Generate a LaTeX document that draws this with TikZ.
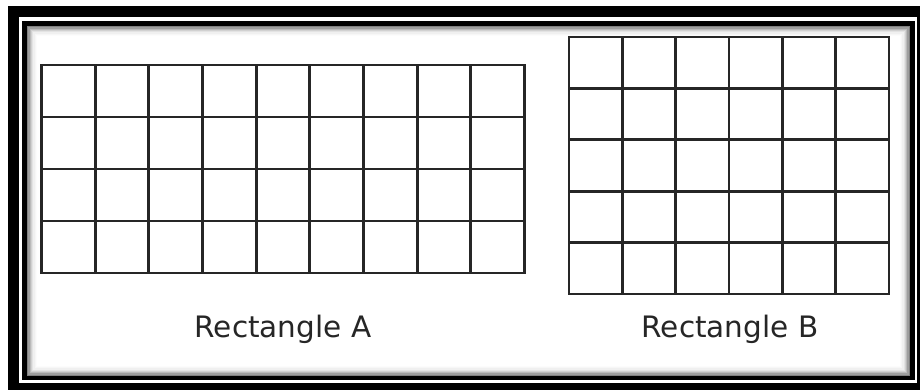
\documentclass[tikz,border=0pt]{standalone}
\usepackage{fontspec}
\setmainfont{DejaVu Sans}
\definecolor{ink}{HTML}{262626}

\begin{document}
\begin{tikzpicture}[x=1pt, y=-1pt,
    gridline/.style={draw=ink, line width=2.9pt},
    rectlabel/.style={font=\fontsize{29.5}{32}\selectfont, text=ink, anchor=base, inner sep=0pt}]
  \useasboundingbox (0,0) rectangle (920,389);
  \fill[white] (0,0) rectangle (920,389);
  % frame
  \draw[line width=11pt] (13.5,11.5) rectangle (922.5,388.5);
  \draw[line width=5pt] (24.5,23.5) rectangle (912,377.5);
  % inner shadow
  \foreach \i/\s in {0/50,1/38,2/27,3/18,4/11,5/6,6/3,7/1}
    \draw[black!\s, line width=1.3pt] (27.6+\i*1.3,26.6+\i*1.3) rectangle (909.4-\i*1.3,375.4-\i*1.3);
  % rectangle A: 9 x 4
  \draw[gridline] (41.5,65) rectangle (524.5,273);
  \foreach \i in {1,...,8}
    \draw[gridline] (41.5+\i*53.67,65) -- (41.5+\i*53.67,273);
  \foreach \j in {1,2,3}
    \draw[gridline] (41.5,65+\j*52) -- (524.5,65+\j*52);
  % rectangle B: 6 x 5
  \draw[gridline] (569,37) rectangle (889,294);
  \foreach \i in {1,...,5}
    \draw[gridline] (569+\i*53.33,37) -- (569+\i*53.33,294);
  \foreach \j in {1,...,4}
    \draw[gridline] (569,37+\j*51.4) -- (889,37+\j*51.4);
  % labels
  \node[rectlabel] (labelA) at (283,337) {Rectangle A};
  \node[rectlabel] (labelB) at (730,337) {Rectangle B};
\end{tikzpicture}
\end{document}
